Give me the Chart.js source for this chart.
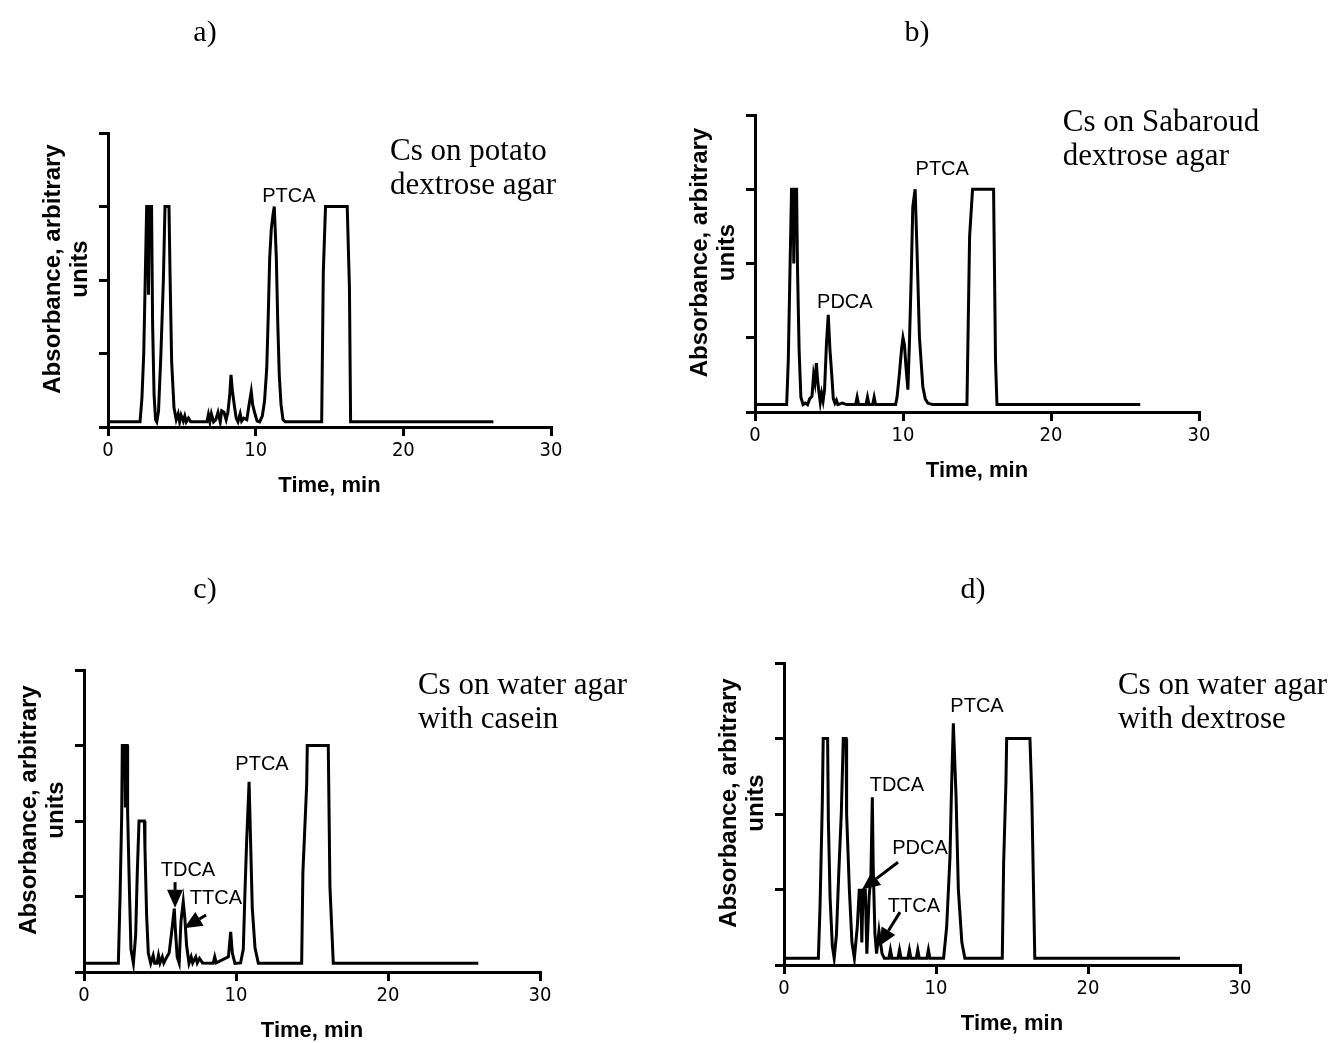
<!DOCTYPE html>
<html>
<head>
<meta charset="utf-8">
<script src="https://cdn.jsdelivr.net/npm/chart.js@4.4.1/dist/chart.umd.min.js"></script>
<style>
    html, body { margin: 0; padding: 0; background: #fff; }
    #wrap { position: relative; width: 1334px; height: 1043px; overflow: hidden; }
    canvas { position: absolute; }
</style>
</head>
<body>
<div id="wrap">
    <canvas id="pa" width="667" height="521" style="left:0;top:0;width:667px;height:521px"></canvas>
    <canvas id="pb" width="667" height="521" style="left:667px;top:0;width:667px;height:521px"></canvas>
    <canvas id="pc" width="667" height="522" style="left:0;top:521px;width:667px;height:522px"></canvas>
    <canvas id="pd" width="667" height="522" style="left:667px;top:521px;width:667px;height:522px"></canvas>
</div>
<script>
(function () {
    'use strict';

    // ── Data ──────────────────────────────────────────────────────────────────
    const X_TICKS = [0, 10, 20, 30];
    const Y_TICKS = [0, 1, 2, 3, 4];

    // a) potato dextrose agar
    const TIME_A = [0, 2.17, 2.3, 2.42, 2.52, 2.62, 2.7, 2.74, 2.8, 2.95,
                    3.02, 3.12, 3.22, 3.3, 3.42, 3.58, 3.75, 3.86, 4.13, 4.2,
                    4.31, 4.47, 4.62, 4.75, 4.85, 4.95, 5.1, 5.2, 5.3, 5.45,
                    5.6, 6.7, 6.8, 6.9, 7.0, 7.15, 7.3, 7.45, 7.6, 7.7,
                    7.85, 8.0, 8.12, 8.25, 8.33, 8.42, 8.55, 8.68, 8.8, 8.95,
                    9.05, 9.2, 9.4, 9.55, 9.7, 9.8, 9.95, 10.1, 10.27, 10.45,
                    10.6, 10.75, 10.85, 10.95, 11.06, 11.18, 11.26, 11.4, 11.5, 11.6,
                    11.72, 11.85, 12.0, 14.47, 14.58, 14.73, 16.2, 16.35, 16.43, 26.1];
    const ABS_A  = [0.07, 0.07, 0.4, 1.0, 2.0, 3.0, 3.0, 1.8, 3.0, 3.0,
                    1.4, 0.44, 0.1, 0.07, 0.21, 0.98, 2.0, 3.0, 3.0, 2.1,
                    0.89, 0.26, 0.1, 0.18, 0.07, 0.16, 0.08, 0.15, 0.07, 0.12,
                    0.07, 0.07, 0.17, 0.07, 0.18, 0.07, 0.1, 0.2, 0.07, 0.22,
                    0.2, 0.1, 0.2, 0.45, 0.71, 0.5, 0.3, 0.12, 0.07, 0.18,
                    0.08, 0.12, 0.1, 0.3, 0.48, 0.3, 0.18, 0.08, 0.07, 0.15,
                    0.35, 0.8, 1.5, 2.3, 2.7, 2.9, 3.0, 2.3, 1.39, 0.7,
                    0.3, 0.1, 0.07, 0.07, 2.1, 3.0, 3.0, 1.9, 0.07, 0.07];

    // b) Sabaroud dextrose agar
    const TIME_B = [0, 2.14, 2.25, 2.36, 2.47, 2.58, 2.62, 2.68, 2.81, 2.87,
                    2.98, 3.1, 3.25, 3.4, 3.55, 3.7, 3.85, 3.96, 4.05, 4.15,
                    4.22, 4.3, 4.41, 4.5, 4.6, 4.7, 4.83, 4.95, 5.06, 5.18,
                    5.29, 5.4, 5.5, 5.6, 5.9, 6.2, 6.8, 6.9, 7.0, 7.5,
                    7.6, 7.7, 7.95, 8.05, 8.15, 9.5, 9.6, 9.75, 9.9, 10.0,
                    10.1, 10.2, 10.33, 10.44, 10.55, 10.66, 10.82, 10.96, 11.11, 11.34,
                    11.5, 11.67, 12.0, 14.32, 14.5, 14.7, 16.12, 16.25, 16.35, 26.03];
    const ABS_B  = [0.1, 0.1, 0.7, 1.87, 3.0, 3.0, 2.0, 3.0, 3.0, 1.96,
                    0.84, 0.2, 0.1, 0.12, 0.1, 0.18, 0.21, 0.5, 0.4, 0.66,
                    0.45, 0.3, 0.13, 0.25, 0.15, 0.3, 0.93, 1.31, 0.85, 0.52,
                    0.18, 0.12, 0.16, 0.1, 0.12, 0.1, 0.1, 0.2, 0.1, 0.1,
                    0.2, 0.1, 0.1, 0.2, 0.1, 0.1, 0.2, 0.5, 0.84, 1.0,
                    0.9, 0.61, 0.3, 0.97, 1.78, 2.76, 3.0, 2.09, 1.01, 0.34,
                    0.18, 0.12, 0.1, 0.1, 2.36, 3.0, 3.0, 0.7, 0.1, 0.1];

    // c) water agar with casein
    const TIME_C = [0, 2.26, 2.37, 2.48, 2.52, 2.68, 2.72, 2.76, 2.85, 2.87,
                    2.98, 3.09, 3.25, 3.4, 3.5, 3.62, 3.97, 4.01, 4.12, 4.23,
                    4.39, 4.55, 4.65, 4.8, 4.9, 5.0, 5.15, 5.25, 5.45, 5.6,
                    5.75, 5.94, 6.0, 6.13, 6.26, 6.38, 6.53, 6.64, 6.75, 6.91,
                    7.05, 7.15, 7.35, 7.45, 7.6, 7.8, 8.5, 8.6, 8.7, 9.5,
                    9.65, 9.76, 9.93, 10.3, 10.48, 10.59, 10.7, 10.81, 10.86, 10.96,
                    11.07, 11.25, 11.47, 14.32, 14.4, 14.65, 14.69, 16.07, 16.18, 16.4,
                    25.94];
    const ABS_C  = [0.115, 0.115, 0.98, 2.08, 3.0, 3.0, 2.2, 3.0, 3.0, 2.12,
                    1.15, 0.3, 0.115, 0.49, 1.28, 2.0, 2.0, 1.64, 0.75, 0.25,
                    0.115, 0.22, 0.115, 0.115, 0.22, 0.12, 0.2, 0.12, 0.2, 0.25,
                    0.5, 0.84, 0.6, 0.2, 0.12, 0.67, 0.93, 0.7, 0.35, 0.115,
                    0.2, 0.12, 0.2, 0.12, 0.18, 0.12, 0.115, 0.2, 0.12, 0.2,
                    0.53, 0.25, 0.115, 0.12, 0.3, 1.06, 1.73, 2.26, 2.52, 1.73,
                    0.85, 0.32, 0.115, 0.115, 1.31, 2.48, 3.0, 3.0, 1.13, 0.115,
                    0.115];

    // d) water agar with dextrose
    const TIME_D = [0, 2.26, 2.37, 2.52, 2.58, 2.87, 2.92, 3.03, 3.18, 3.3,
                    3.45, 3.6, 3.77, 3.9, 4.08, 4.12, 4.3, 4.47, 4.63, 4.82,
                    4.95, 5.05, 5.12, 5.2, 5.35, 5.45, 5.6, 5.72, 5.81, 5.87,
                    5.98, 6.09, 6.25, 6.35, 6.45, 6.6, 6.9, 7.0, 7.1, 7.5,
                    7.6, 7.7, 8.15, 8.25, 8.35, 8.7, 8.8, 8.9, 9.4, 9.5,
                    9.6, 10.5, 10.7, 10.92, 11.02, 11.14, 11.32, 11.47, 11.7, 11.9,
                    14.36, 14.45, 14.6, 14.65, 16.18, 16.3, 16.5, 26.05];
    const ABS_D  = [0.09, 0.09, 0.77, 2.14, 3.0, 3.0, 1.9, 0.9, 0.25, 0.09,
                    0.4, 1.2, 2.01, 3.0, 3.0, 2.0, 1.0, 0.3, 0.09, 0.5,
                    0.99, 0.99, 0.3, 0.99, 0.99, 0.15, 0.9, 1.2, 2.22, 1.3,
                    0.42, 0.15, 0.45, 0.3, 0.15, 0.09, 0.09, 0.2, 0.09, 0.09,
                    0.2, 0.09, 0.09, 0.2, 0.09, 0.09, 0.2, 0.09, 0.09, 0.2,
                    0.09, 0.09, 0.5, 1.43, 2.32, 3.2, 2.23, 1.0, 0.3, 0.09,
                    0.09, 1.35, 2.41, 3.0, 3.0, 2.27, 0.09, 0.09];

    const MEDIUM_A = ['Cs on potato', 'dextrose agar'];
    const MEDIUM_B = ['Cs on Sabaroud', 'dextrose agar'];
    const MEDIUM_C = ['Cs on water agar', 'with casein'];
    const MEDIUM_D = ['Cs on water agar', 'with dextrose'];

    const Y_TITLE = ['Absorbance, arbitrary', 'units'];
    const X_TITLE = 'Time, min';

    // ── Fonts ─────────────────────────────────────────────────────────────────
    const SERIF  = "'Liberation Serif', 'Times New Roman', serif";
    const SANS   = "'Liberation Sans', Arial, sans-serif";
    const NARROW = "'Liberation Sans Narrow', 'Arial Narrow', 'DejaVu Sans Condensed', 'Liberation Sans', sans-serif";

    // ── Panel layout (plot box inside each canvas, px) ────────────────────────
    const Y_W = 20;   // fixed width of the y scale (tick marks only)
    const X_H = 70;   // fixed height of the x scale (ticks + title)

    // ── Overlay plugin: panel letter, medium, peak names, arrows, y title ─────
    function arrow(ctx, x1, y1, x2, y2) {
        const len = 18, hw = 8;
        const ang = Math.atan2(y2 - y1, x2 - x1);
        const bx = x2 - Math.cos(ang) * len, by = y2 - Math.sin(ang) * len;
        ctx.lineWidth = 3;
        ctx.beginPath(); ctx.moveTo(x1, y1); ctx.lineTo(bx, by); ctx.stroke();
        ctx.beginPath();
        ctx.moveTo(x2, y2);
        ctx.lineTo(bx + Math.sin(ang) * hw, by - Math.cos(ang) * hw);
        ctx.lineTo(bx - Math.sin(ang) * hw, by + Math.cos(ang) * hw);
        ctx.closePath(); ctx.fill();
    }

    function overlay(cfg) {
        return {
            id: 'overlay',
            afterDraw(chart) {
                const { ctx, chartArea, scales } = chart;
                const px = (t) => scales.x.getPixelForValue(t);
                const py = (v) => scales.y.getPixelForValue(v);

                ctx.save();
                ctx.fillStyle = '#000';
                ctx.strokeStyle = '#000';
                ctx.textBaseline = 'middle';

                // panel letter
                ctx.textAlign = 'center';
                ctx.font = '30px ' + SERIF;
                ctx.fillText(cfg.panel, px(cfg.panelAt[0]), py(cfg.panelAt[1]));

                // culture medium
                ctx.textAlign = 'left';
                ctx.font = '31px ' + SERIF;
                cfg.medium.forEach((line, i) =>
                    ctx.fillText(line, px(cfg.mediumAt[0]), py(cfg.mediumAt[1]) + i * 34));

                // peak names
                ctx.textAlign = 'center';
                ctx.font = '20px ' + SANS;
                cfg.peaks.forEach(([name, t, v]) => ctx.fillText(name, px(t), py(v)));

                // arrows
                cfg.arrows.forEach(([t1, v1, t2, v2]) => arrow(ctx, px(t1), py(v1), px(t2), py(v2)));

                // y title (two lines, rotated)
                ctx.translate(chartArea.left - 55, (chartArea.top + chartArea.bottom) / 2 - 11);
                ctx.rotate(-Math.PI / 2);
                ctx.font = 'bold 24px ' + SANS;
                ctx.fillText(Y_TITLE[0], 0, 0);
                ctx.fillText(Y_TITLE[1], 0, 27);

                ctx.restore();
            }
        };
    }

    // ── Chart factory ─────────────────────────────────────────────────────────
    function makeChart(id, times, values, box, cfg) {
        const canvas = document.getElementById(id);
        const W = canvas.width, H = canvas.height;
        return new Chart(canvas.getContext('2d'), {
            type: 'line',
            data: {
                datasets: [{
                    data: times.map((t, i) => ({ x: t, y: values[i] })),
                    borderColor: '#000',
                    borderWidth: 3,
                    pointRadius: 0,
                    tension: 0,
                    fill: false
                }]
            },
            options: {
                responsive: false,
                animation: false,
                events: [],
                layout: {
                    padding: {
                        left: box.left - Y_W,
                        top: box.top,
                        right: W - box.right,
                        bottom: H - box.bottom - X_H
                    }
                },
                plugins: { legend: { display: false }, tooltip: { enabled: false } },
                scales: {
                    x: {
                        type: 'linear',
                        min: X_TICKS[0],
                        max: X_TICKS[X_TICKS.length - 1],
                        afterBuildTicks: (s) => { s.ticks = X_TICKS.map((v) => ({ value: v })); },
                        afterFit: (s) => { s.height = X_H; },
                        border: { color: '#000', width: 3 },
                        grid: { drawOnChartArea: false, drawTicks: true, tickLength: 9, color: '#000', lineWidth: 3 },
                        ticks: {
                            color: '#000',
                            padding: 3,
                            maxRotation: 0,
                            autoSkip: false,
                            font: { family: NARROW, size: 20 },
                            callback: (v) => String(v)
                        },
                        title: {
                            display: true,
                            text: X_TITLE,
                            color: '#000',
                            padding: { top: 0, bottom: 0 },
                            font: { family: SANS, size: 22, weight: 'bold', lineHeight: 1 }
                        }
                    },
                    y: {
                        type: 'linear',
                        min: Y_TICKS[0],
                        max: Y_TICKS[Y_TICKS.length - 1],
                        afterBuildTicks: (s) => { s.ticks = Y_TICKS.map((v) => ({ value: v })); },
                        afterFit: (s) => { s.width = Y_W; },
                        border: { color: '#000', width: 3 },
                        grid: { drawOnChartArea: false, drawTicks: true, tickLength: 9, color: '#000', lineWidth: 3 },
                        ticks: { display: false }
                    }
                }
            },
            plugins: [overlay(cfg)]
        });
    }

    makeChart('pa', TIME_A, ABS_A, { left: 108, right: 551, top: 133, bottom: 427 }, {
        panel: 'a)', panelAt: [6.57, 5.36],
        medium: MEDIUM_A, mediumAt: [19.1, 3.74],
        peaks: [['PTCA', 12.25, 3.13]],
        arrows: []
    });

    makeChart('pb', TIME_B, ABS_B, { left: 88, right: 532, top: 115, bottom: 412 }, {
        panel: 'b)', panelAt: [10.95, 5.1],
        medium: MEDIUM_B, mediumAt: [20.8, 3.89],
        peaks: [['PTCA', 12.65, 3.26], ['PDCA', 6.07, 1.48]],
        arrows: []
    });

    makeChart('pc', TIME_C, ABS_C, { left: 84, right: 540, top: 149, bottom: 451 }, {
        panel: 'c)', panelAt: [7.96, 5.06],
        medium: MEDIUM_C, mediumAt: [21.97, 3.79],
        peaks: [['PTCA', 11.71, 2.75], ['TDCA', 6.84, 1.35], ['TTCA', 8.68, 0.97]],
        arrows: [[5.99, 1.19, 5.99, 0.85], [8.03, 0.755, 6.58, 0.58]]
    });

    makeChart('pd', TIME_D, ABS_D, { left: 117, right: 573, top: 142, bottom: 444 }, {
        panel: 'd)', panelAt: [12.43, 4.97],
        medium: MEDIUM_D, mediumAt: [21.97, 3.7],
        peaks: [['PTCA', 12.7, 3.42], ['TDCA', 7.43, 2.38], ['PDCA', 8.95, 1.54], ['TTCA', 8.55, 0.78]],
        arrows: [[7.5, 1.36, 5.13, 1.0], [7.63, 0.7, 6.25, 0.25]]
    });

}());
</script>
</body>
</html>
